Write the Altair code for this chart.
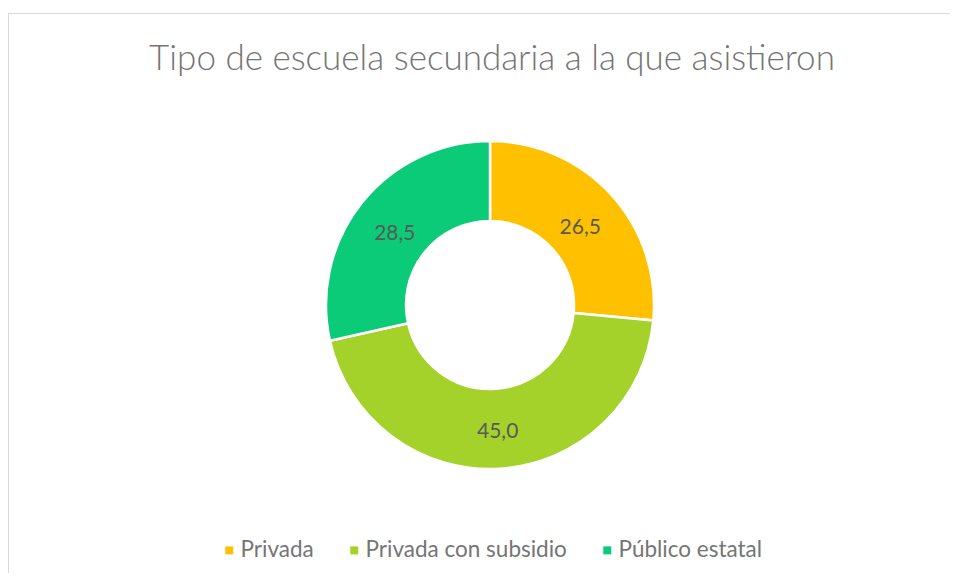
import altair as alt
import pandas as pd

categories = ["Privada", "Privada con subsidio", "Público estatal"]
values = [26.5, 45.0, 28.5]
labels = ["26,5", "45,0", "28,5"]
colors = ["#FFC000", "#A5D22A", "#0BCB78"]
title_text = "Tipo de escuela secundaria a la que asistieron"

df = pd.DataFrame({"cat": categories, "val": values, "lab": labels, "ord": list(range(len(categories)))})

W, H = 942, 565
CX, CY = 482, 297
FONT = "Lato"
GRAY = "#595959"
LIGHT = "#757575"

base = alt.Chart(df).encode(
    theta=alt.Theta("val:Q", stack=True),
    order=alt.Order("ord:Q"),
)

arcs = base.mark_arc(innerRadius=84, outerRadius=164, stroke="white", strokeWidth=2.5).encode(
    color=alt.Color(
        "cat:N",
        scale=alt.Scale(domain=categories, range=colors),
        sort=categories,
        legend=alt.Legend(
            title=None,
            orient="none",
            legendX=210,
            legendY=531,
            direction="horizontal",
            symbolType="square",
            symbolSize=64,
            symbolStrokeWidth=0,
            labelFontSize=22.5,
            labelFont=FONT,
            labelColor=LIGHT,
            labelOffset=0,
            labelLimit=0,
            columnPadding=29,
        ),
    ),
    x=alt.value(CX),
    y=alt.value(CY),
)

texts = base.mark_text(radius=122, dy=5, fontSize=21, font=FONT, color=GRAY).encode(
    text="lab:N",
    x=alt.value(CX),
    y=alt.value(CY),
)

title = alt.Chart(pd.DataFrame({"t": [title_text]})).mark_text(
    fontSize=35, font=FONT, fontWeight=300, color=LIGHT, baseline="middle", align="center"
).encode(text="t:N", x=alt.value(CX + 2), y=alt.value(51))

top_border = alt.Chart(pd.DataFrame({"a": [0]})).mark_rule(color="#d9d9d9", strokeWidth=1).encode(
    x=alt.value(0), x2=alt.value(W), y=alt.value(5.5)
)
left_border = alt.Chart(pd.DataFrame({"a": [0]})).mark_rule(color="#d9d9d9", strokeWidth=1).encode(
    x=alt.value(0.5), y=alt.value(5), y2=alt.value(H)
)

chart = alt.layer(top_border, left_border, arcs, texts, title).properties(
    width=W, height=H, autosize=alt.AutoSizeParams(type="none"), padding=0
).configure_view(stroke=None)

chart.save("out.html", embed_options={"renderer": "svg", "actions": False})
